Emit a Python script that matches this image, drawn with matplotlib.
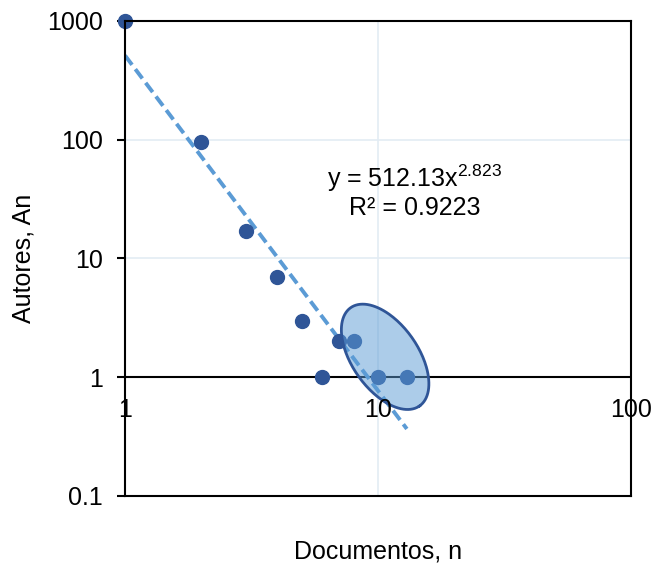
import numpy as np
import matplotlib.pyplot as plt

plt.rcParams['font.family'] = ['Liberation Sans', 'DejaVu Sans']
plt.rcParams['mathtext.fontset'] = 'custom'
plt.rcParams['mathtext.rm'] = 'Liberation Sans'
plt.rcParams['mathtext.it'] = 'Liberation Sans'

# Documentos (n) vs Autores (An)
docs = [1, 2, 3, 4, 5, 6, 7, 8, 10, 13]
autores = [1000, 96, 17, 7, 3, 1, 2, 2, 1, 1]

# Potential trendline y = a * x^b
coef_a = 512.13
coef_b = -2.823
r2 = 0.9223

x_ticks = [1, 10, 100]
y_ticks = [0.1, 1, 10, 100, 1000]
y_ticklabels = ['0.1', '1', '10', '100', '1000']

dot_color = '#2F5597'
trend_color = '#5B9BD5'
grid_color = '#E3ECF4'


def main():
    fig = plt.figure(figsize=(6.57, 5.66), dpi=100)
    ax = fig.add_axes([0.1903, 0.1237, 0.7702, 0.8392])
    ax.set_xscale('log')
    ax.set_yscale('log')
    ax.set_xlim(1, 100)
    ax.set_ylim(0.1, 1000)

    # grid
    for yv in [10, 100]:
        ax.axhline(yv, color=grid_color, lw=1.2, zorder=0)
    ax.axvline(10, color=grid_color, lw=1.2, zorder=0)

    # horizontal axis crosses at y = 1
    ax.axhline(1, color='black', lw=1.5, zorder=1)
    for s in ['left', 'right', 'top', 'bottom']:
        ax.spines[s].set_linewidth(1.5)
        ax.spines[s].set_zorder(6)

    # trendline
    xt = np.logspace(0, np.log10(docs[-1]), 60)
    ax.plot(xt, coef_a * xt ** coef_b, color=trend_color, lw=2.8,
            dashes=(3, 1.4), zorder=2)

    # points
    ax.plot(docs, autores, 'o', color=dot_color, ms=10, zorder=3,
            clip_on=False)

    # ellipse highlighting the last points (pixel-shaped, placed in axes fraction)
    w_px, h_px = 506.0, 475.0
    cx, cy = 0.514, 0.293
    t = np.linspace(0, 2 * np.pi, 200)
    ang = np.deg2rad(-55)
    a_px, b_px = 60, 33
    ex = a_px * np.cos(t) * np.cos(ang) - b_px * np.sin(t) * np.sin(ang)
    ey = a_px * np.cos(t) * np.sin(ang) + b_px * np.sin(t) * np.cos(ang)
    ax.fill(cx + ex / w_px, cy + ey / h_px, transform=ax.transAxes,
            facecolor='#5B9BD5', alpha=0.5, edgecolor='none', zorder=4)
    ax.plot(cx + ex / w_px, cy + ey / h_px, transform=ax.transAxes,
            color=dot_color, lw=2, zorder=5)

    # ticks
    ax.set_yticks(y_ticks)
    ax.set_yticklabels(y_ticklabels)
    ax.yaxis.set_minor_locator(plt.NullLocator())
    ax.xaxis.set_minor_locator(plt.NullLocator())
    ax.tick_params(axis='y', direction='out', length=6, width=1.5,
                   labelsize=18, pad=10)
    ax.set_xticks(x_ticks)
    ax.set_xticklabels([])
    ax.tick_params(axis='x', length=0)
    for xv in x_ticks:
        ax.text(xv, 0.53, str(xv), ha='center', va='center', fontsize=18,
                zorder=5)

    ax.set_xlabel('Documentos, n', fontsize=18, labelpad=28)
    ax.set_ylabel('Autores, An', fontsize=18, labelpad=8)

    ax.text(0.573, 0.668, r'y = 512.13x$^{2.823}$', transform=ax.transAxes,
            ha='center', va='center', fontsize=18)
    ax.text(0.573, 0.607, 'R² = %.4f' % r2, transform=ax.transAxes,
            ha='center', va='center', fontsize=18)

    fig.savefig('out.png', dpi=100)


if __name__ == '__main__':
    main()
